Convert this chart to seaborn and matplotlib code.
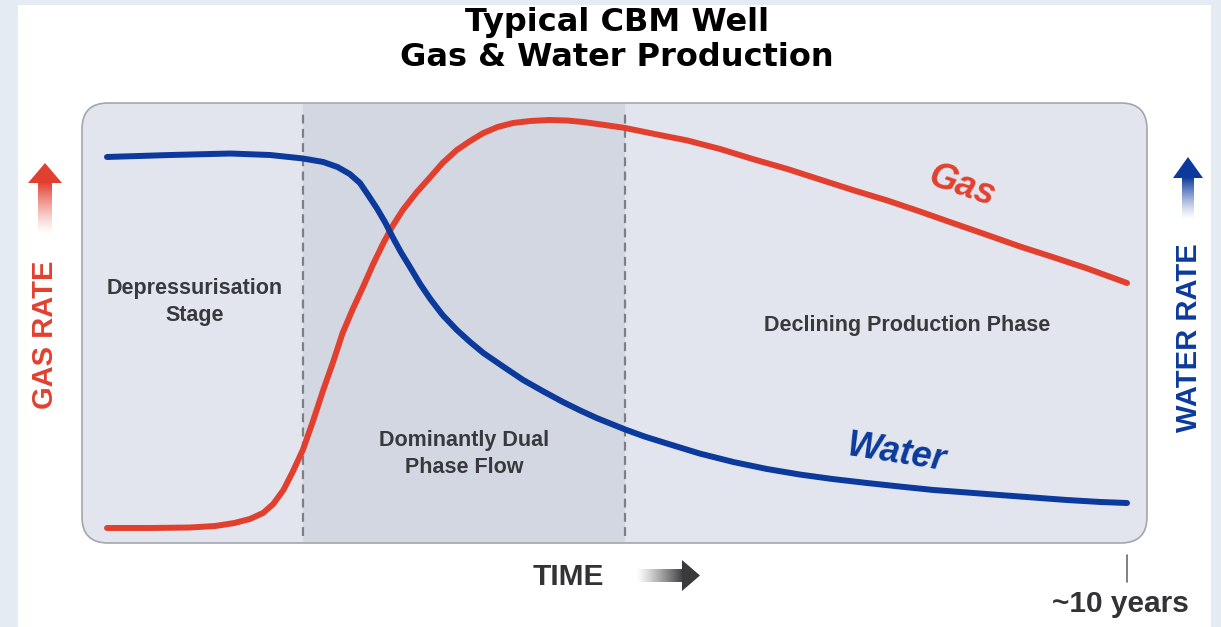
import numpy as np
import pandas as pd
import matplotlib
matplotlib.use('Agg')
import matplotlib.pyplot as plt
from matplotlib.patches import FancyBboxPatch, Polygon, Rectangle
from matplotlib.colors import to_rgb
import seaborn as sns

# values (time in years, rate normalised 0-100)
gas_years = [0.00, 0.42, 0.81, 1.06, 1.25, 1.40, 1.53, 1.63, 1.73, 1.82, 1.92, 2.02, 2.12,
             2.22, 2.31, 2.41, 2.51, 2.61, 2.71, 2.80, 2.90, 3.03, 3.17, 3.29, 3.43, 3.56,
             3.69, 3.83, 3.98, 4.15, 4.34, 4.51, 4.67, 4.88, 5.08, 5.37, 5.69, 6.01, 6.33,
             6.67, 6.99, 7.31, 7.65, 7.97, 8.29, 8.63, 8.95, 9.27, 9.61, 10.0]
gas_rate = [3.41, 3.41, 3.52, 3.86, 4.55, 5.45, 6.82, 8.86, 12.05, 16.14, 21.14, 27.73, 34.77,
            41.36, 47.73, 53.18, 58.18, 63.41, 68.18, 72.05, 75.68, 79.55, 83.18, 86.36, 89.32,
            91.36, 93.18, 94.55, 95.45, 95.91, 96.14, 96.02, 95.68, 95.0, 94.32, 92.95, 91.48,
            89.55, 87.27, 85.0, 82.61, 80.23, 77.84, 75.34, 72.73, 70.0, 67.39, 65.0, 62.39, 59.09]
water_years = [0.0, 0.62, 1.21, 1.60, 1.92, 2.12, 2.26, 2.38, 2.48, 2.56, 2.65, 2.73, 2.80,
               2.88, 2.97, 3.07, 3.17, 3.29, 3.43, 3.56, 3.69, 3.89, 4.08, 4.28, 4.47, 4.64,
               4.80, 5.08, 5.27, 5.49, 5.81, 6.14, 6.47, 6.79, 7.11, 7.45, 7.77, 8.10, 8.43,
               8.75, 9.08, 9.41, 9.74, 10.0]
water_rate = [87.73, 88.18, 88.52, 88.18, 87.39, 86.59, 85.45, 83.86, 81.82, 79.09, 75.91,
              72.73, 69.55, 66.14, 62.73, 58.86, 55.45, 51.82, 48.41, 45.68, 43.18, 40.0, 37.05,
              34.43, 32.05, 30.11, 28.41, 25.80, 24.20, 22.61, 20.34, 18.41, 16.82, 15.57, 14.55,
              13.64, 12.84, 12.05, 11.48, 10.91, 10.34, 9.77, 9.32, 9.09]
phase_bounds = [1.92, 5.08]
phase_labels = ['Depressurisation\nStage', 'Dominantly Dual\nPhase Flow', 'Declining Production Phase']

gas_color = '#e2402f'
water_color = '#0b3a9c'
label_color = '#38393d'

gas_df = pd.DataFrame({'year': gas_years, 'rate': gas_rate})
water_df = pd.DataFrame({'year': water_years, 'rate': water_rate})

W, H = 1221, 627
sns.set_theme(style='white')
plt.rcParams['font.family'] = ['Liberation Sans', 'DejaVu Sans']
fig = plt.figure(figsize=(W / 100, H / 100), dpi=100)
fig.patch.set_facecolor('white')

# pixel-space canvas for the frame, arrows and captions
bg = fig.add_axes([0, 0, 1, 1], zorder=0)
bg.set_xlim(0, W)
bg.set_ylim(H, 0)
bg.axis('off')
for x, y, w, h in [(0, 0, 18, H), (1211, 0, 10, H), (0, 0, W, 5)]:
    bg.add_patch(Rectangle((x, y), w, h, color='#e5ebf3', lw=0))
bg.add_patch(FancyBboxPatch((82, 103), 1065, 440, boxstyle='round,pad=0,rounding_size=26',
                            fc='#e2e5ed', ec='#a3a6ad', lw=1.2))


def fade_arrow(cx, top, head_len, head_w, shaft_w, tail, color):
    rgb = to_rgb(color)
    n = 64
    img = np.zeros((n, 1, 4))
    img[:, 0, :3] = rgb
    img[:, 0, 3] = np.linspace(1, 0, n) ** 1.3
    bg.imshow(img, extent=[cx - shaft_w / 2, cx + shaft_w / 2, tail, top + head_len - 1],
              aspect='auto', interpolation='bilinear', zorder=2)
    bg.add_patch(Polygon([(cx, top), (cx - head_w / 2, top + head_len), (cx + head_w / 2, top + head_len)],
                         closed=True, color=color, lw=0, zorder=3))


fade_arrow(45, 163, 20, 34, 14, 235, gas_color)
fade_arrow(1188, 157, 21, 30, 12, 220, water_color)

# time arrow (horizontal)
img = np.zeros((1, 64, 4))
img[0, :, :3] = to_rgb('#3a3a3c')
img[0, :, 3] = np.linspace(0, 1, 64) ** 1.2
bg.imshow(img, extent=[636, 684, 582, 569], aspect='auto', interpolation='bilinear', zorder=2)
bg.add_patch(Polygon([(700, 575.5), (682, 560), (682, 591)], closed=True, color='#3a3a3c', lw=0, zorder=3))

bg.plot([1127, 1127], [555, 582], color='#6a6a6a', lw=1.2)

bg.text(617, 22, 'Typical CBM Well', ha='center', va='center', fontsize=23, weight='bold',
        family='DejaVu Sans', color='black')
bg.text(617, 58, 'Gas & Water Production', ha='center', va='center', fontsize=23, weight='bold',
        family='DejaVu Sans', color='black')
bg.text(45, 335, 'GAS RATE', rotation=90, ha='center', va='center', fontsize=21, weight='bold',
        color=gas_color)
bg.text(1189, 338, 'WATER RATE', rotation=90, ha='center', va='center', fontsize=21, weight='bold',
        color=water_color)
bg.text(568, 577, 'TIME', ha='center', va='center', fontsize=21.5, weight='bold', color='#333335')
bg.text(1120, 604, '~10 years', ha='center', va='center', fontsize=21.5, weight='bold', color='#333335')

bg.text(962, 186, 'Gas', rotation=-19, ha='center', va='center', fontsize=26, weight='bold',
        style='italic', color=gas_color)
bg.text(896, 453, 'Water', rotation=-9, ha='center', va='center', fontsize=26, weight='bold',
        style='italic', color=water_color)

# data axes sit exactly on the rounded panel
ax = fig.add_axes([82 / W, (H - 543) / H, 1065 / W, 440 / H], zorder=1)
ax.set_facecolor('none')
ax.set_xlim((82 - 107) / 102, (1147 - 107) / 102)
ax.set_ylim(0, 100)
ax.axvspan(phase_bounds[0], phase_bounds[1], ymin=0.003, ymax=0.997, color='#d3d7e2', lw=0, zorder=0)
for b in phase_bounds:
    ax.axvline(b, ymin=0.015, ymax=0.985, color='#7d7f84', lw=1.6, ls=(0, (4, 2.4)), zorder=1)

# phase captions drawn above the shading
narrow = ['Liberation Sans Narrow', 'Liberation Sans', 'DejaVu Sans']
for (x, y), lab in zip([(195, 302), (464, 454), (907, 325)], phase_labels):
    ax.text(x, y, lab, transform=bg.transData, ha='center', va='center', fontsize=15.5,
            weight='bold', family=narrow, color=label_color, linespacing=1.35, zorder=2)

sns.lineplot(data=gas_df, x='year', y='rate', color=gas_color, lw=4.3, sort=False,
             estimator=None, ax=ax, zorder=3, solid_joinstyle='round')
sns.lineplot(data=water_df, x='year', y='rate', color=water_color, lw=4.3, sort=False,
             estimator=None, ax=ax, zorder=3, solid_joinstyle='round')
ax.axis('off')

plt.savefig('out.png', dpi=100, facecolor=fig.get_facecolor())
